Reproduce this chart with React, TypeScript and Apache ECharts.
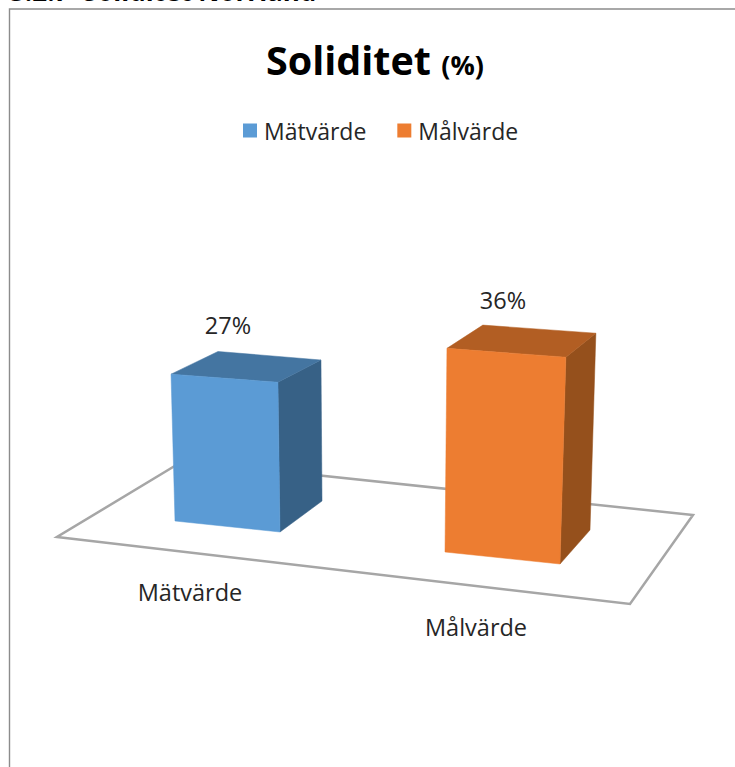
import React, { useEffect, useRef } from "react";
import * as echarts from "echarts";

const categories = ["Mätvärde", "Målvärde"];
const measured = [27];
const target = [36];
const valueLabels = ["27%", "36%"];
const seriesColors = ["#5B9BD5", "#ED7D31"];
const topColors = ["#4475A1", "#B25E23"];
const sideColors = ["#376186", "#95501C"];

const FONT = "'Open Sans', 'Noto Sans', sans-serif";

// Perspective layout of each box: floor corners [front-left, front-right, back-right, back-left]
// and how far each corner rises per pixel of the value's height on the axis.
const baseCorners = [
  [[175, 521], [280, 532], [322, 501], [218, 491]],
  [[445, 552], [560, 564], [590, 530], [475, 518]],
];
const riseFactors = [
  [[-0.027, 1], [-0.014, 1.02], [-0.007, 0.96], [0, 0.95]],
  [[0.01, 1.04], [0.03, 1.056], [0.03, 1.005], [0.04, 0.985]],
];
const labelAnchors = [[228, 325], [503, 300]];
const categoryAnchors = [[190, 592], [476, 627]];

function box(index: number) {
  return (params: any, api: any) => {
    const zero = api.coord([0, 0])[1];
    const h = zero - api.coord([0, api.value(1)])[1];
    const base = baseCorners[index];
    const top = base.map((p, i) => [
      p[0] + riseFactors[index][i][0] * h,
      p[1] - riseFactors[index][i][1] * h,
    ]);
    const poly = (points: number[][], fill: string) => ({
      type: "polygon",
      shape: { points },
      style: { fill, stroke: fill, lineWidth: 0.5 },
    });
    const text = (str: string, at: number[]) => ({
      type: "text",
      x: at[0],
      y: at[1],
      style: {
        text: str,
        fill: "#262626",
        font: `23.5px ${FONT}`,
        textAlign: "center",
        textVerticalAlign: "middle",
      },
    });
    return {
      type: "group",
      children: [
        poly([base[1], base[2], top[2], top[1]], sideColors[index]),
        poly([top[0], top[1], top[2], top[3]], topColors[index]),
        poly([base[0], base[1], top[1], top[0]], seriesColors[index]),
        text(valueLabels[index], labelAnchors[index]),
        text(categories[index], categoryAnchors[index]),
      ],
    };
  };
}

export default function App() {
  const ref = useRef<HTMLDivElement>(null);
  useEffect(() => {
    const chart = echarts.init(ref.current!, null, { renderer: "svg" });
    chart.setOption({
      animation: false,
      backgroundColor: "#ffffff",
      color: seriesColors,
      title: {
        text: "Soliditet {s|(%)}",
        left: 261,
        top: 35,
        textStyle: {
          fontFamily: FONT,
          fontSize: 39.5,
          fontWeight: "bold",
          color: "#000000",
          rich: {
            s: { fontFamily: FONT, fontSize: 27, fontWeight: "bold", color: "#000000", padding: [8, 0, 0, 0] },
          },
        },
      },
      legend: {
        left: 238,
        top: 114,
        itemWidth: 14,
        itemHeight: 14,
        itemGap: 31,
        icon: "rect",
        data: categories,
        textStyle: { fontFamily: FONT, fontSize: 23, color: "#262626", padding: [0, 0, 0, 2] },
      },
      grid: { left: 0, right: 0, top: 0, bottom: 0 },
      xAxis: { type: "value", min: 0, max: 1, show: false },
      yAxis: { type: "value", min: 0, max: 141, show: false },
      graphic: [
        {
          type: "text",
          x: 10,
          y: -22,
          style: { text: "5.2.7  Soliditet Norrland", fill: "#000", font: `bold 26px ${FONT}` },
          z: 1,
        },
        {
          type: "polyline",
          shape: { points: [[9.5, 767], [9.5, 9], [735, 9]] },
          style: { stroke: "#8c8c8c", lineWidth: 1.4, fill: "none" },
          z: 1,
        },
        {
          type: "polygon",
          shape: { points: [[57, 537], [630, 604], [693, 515], [183, 461]] },
          style: { stroke: "#a6a6a6", lineWidth: 2.5, fill: "#ffffff" },
          z: 1,
        },
      ],
      series: [
        { name: categories[0], type: "custom", z: 5, renderItem: box(0), data: [[0, measured[0]]], encode: { x: 0, y: 1 } },
        { name: categories[1], type: "custom", z: 5, renderItem: box(1), data: [[1, target[0]]], encode: { x: 0, y: 1 } },
      ],
    });
    return () => chart.dispose();
  }, []);
  return <div ref={ref} style={{ position: "fixed", left: 0, top: 0, width: 735, height: 767 }} />;
}
